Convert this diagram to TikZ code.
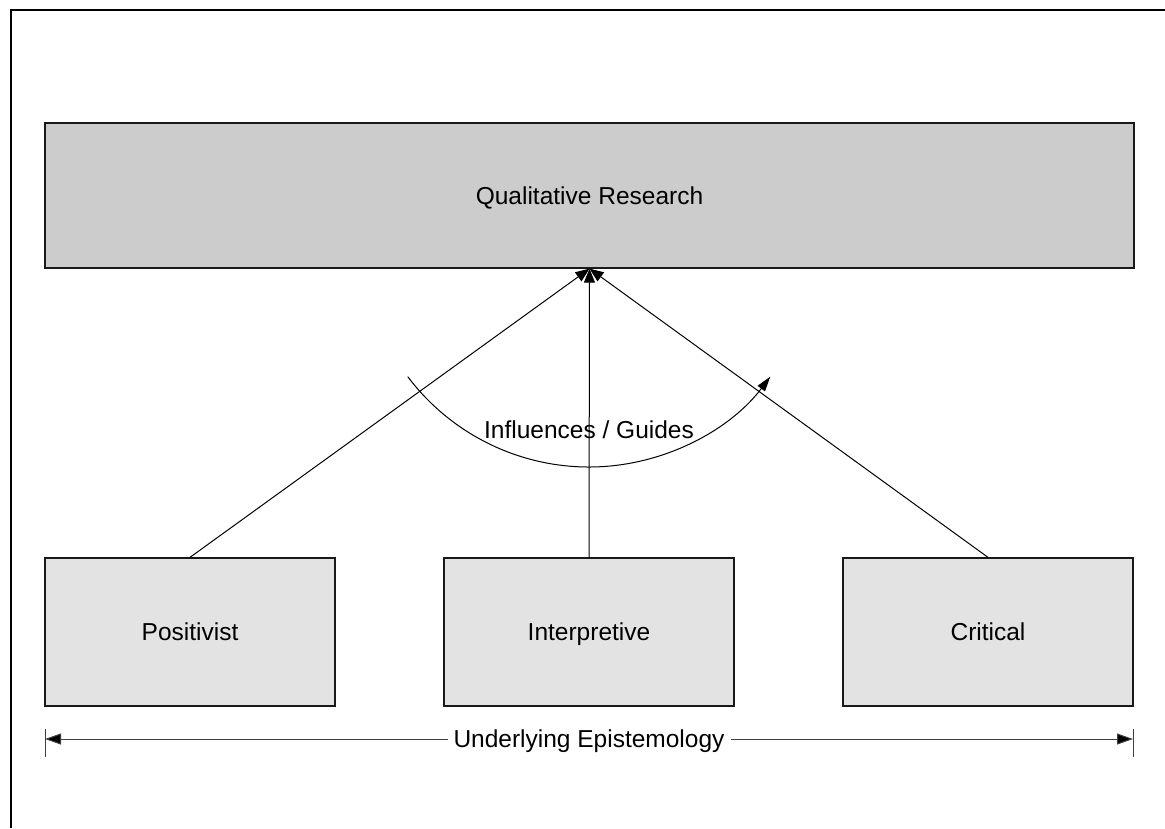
\documentclass[tikz,border=0pt]{standalone}
\usepackage{fontspec}
\setmainfont{Liberation Sans}
\usetikzlibrary{arrows.meta,calc}
\definecolor{topfill}{HTML}{CCCCCC}
\definecolor{boxfill}{HTML}{E3E3E3}
\definecolor{dimline}{HTML}{404040}
\begin{document}
\begin{tikzpicture}[x=1pt,y=1pt,
  lbl/.style={font=\fontsize{24.5}{28}\selectfont,text height=17.5pt,text depth=0pt},
  bigbox/.style={draw=black!90,line width=1.3pt,fill=topfill,minimum width=1089pt,minimum height=145pt,inner sep=0pt,lbl},
  epbox/.style={draw=black!90,line width=1.3pt,fill=boxfill,minimum width=290pt,minimum height=148pt,inner sep=0pt,lbl},
  link/.style={line width=1pt,-{Triangle[length=14pt,width=11pt]}},
  dimarrow/.style={draw=dimline,line width=1pt,{Triangle[length=16pt,width=11pt,fill=black]}-{Triangle[length=16pt,width=11pt,fill=black]}},
  tick/.style={draw=dimline,line width=1pt}]
\useasboundingbox (0,0) rectangle (1165,-828);
% frame
\draw[line width=2pt] (11,-828) -- (11,-10) -- (1165,-10);
% boxes
\node[bigbox] (qr) at (589.5,-195.5) {Qualitative Research};
\node[epbox] (pos) at (190,-632) {Positivist};
\node[epbox] (int) at (589,-632) {Interpretive};
\node[epbox] (crit) at (988,-632) {Critical};
% connectors
\draw[link] (pos.north) -- (qr.south);
\draw[link] (int.north) -- (qr.south);
\draw[link] (crit.north) -- (qr.south);
% influence arc
\coordinate (arcc) at (589,-240);
\draw[line width=1pt,-{Triangle[length=15pt,width=9pt]}] ($(arcc)+(217:227)$) arc[start angle=217,end angle=323,radius=227];
\node[lbl] (infl) at (589,-430) {Influences / Guides};
% epistemology span
\coordinate (dl) at (45,-739);
\coordinate (dr) at (1133,-739);
\coordinate (dlt) at (45,-729);
\coordinate (dlb) at (45,-757);
\coordinate (drt) at (1133,-729);
\coordinate (drb) at (1133,-757);
\draw[tick] (dlt) -- (dlb);
\draw[tick] (drt) -- (drb);
\draw[dimarrow] (dl) -- (dr);
\node[lbl,fill=white,inner xsep=6pt,inner ysep=3pt] (ep) at (589,-739) {Underlying Epistemology};
\end{tikzpicture}
\end{document}
